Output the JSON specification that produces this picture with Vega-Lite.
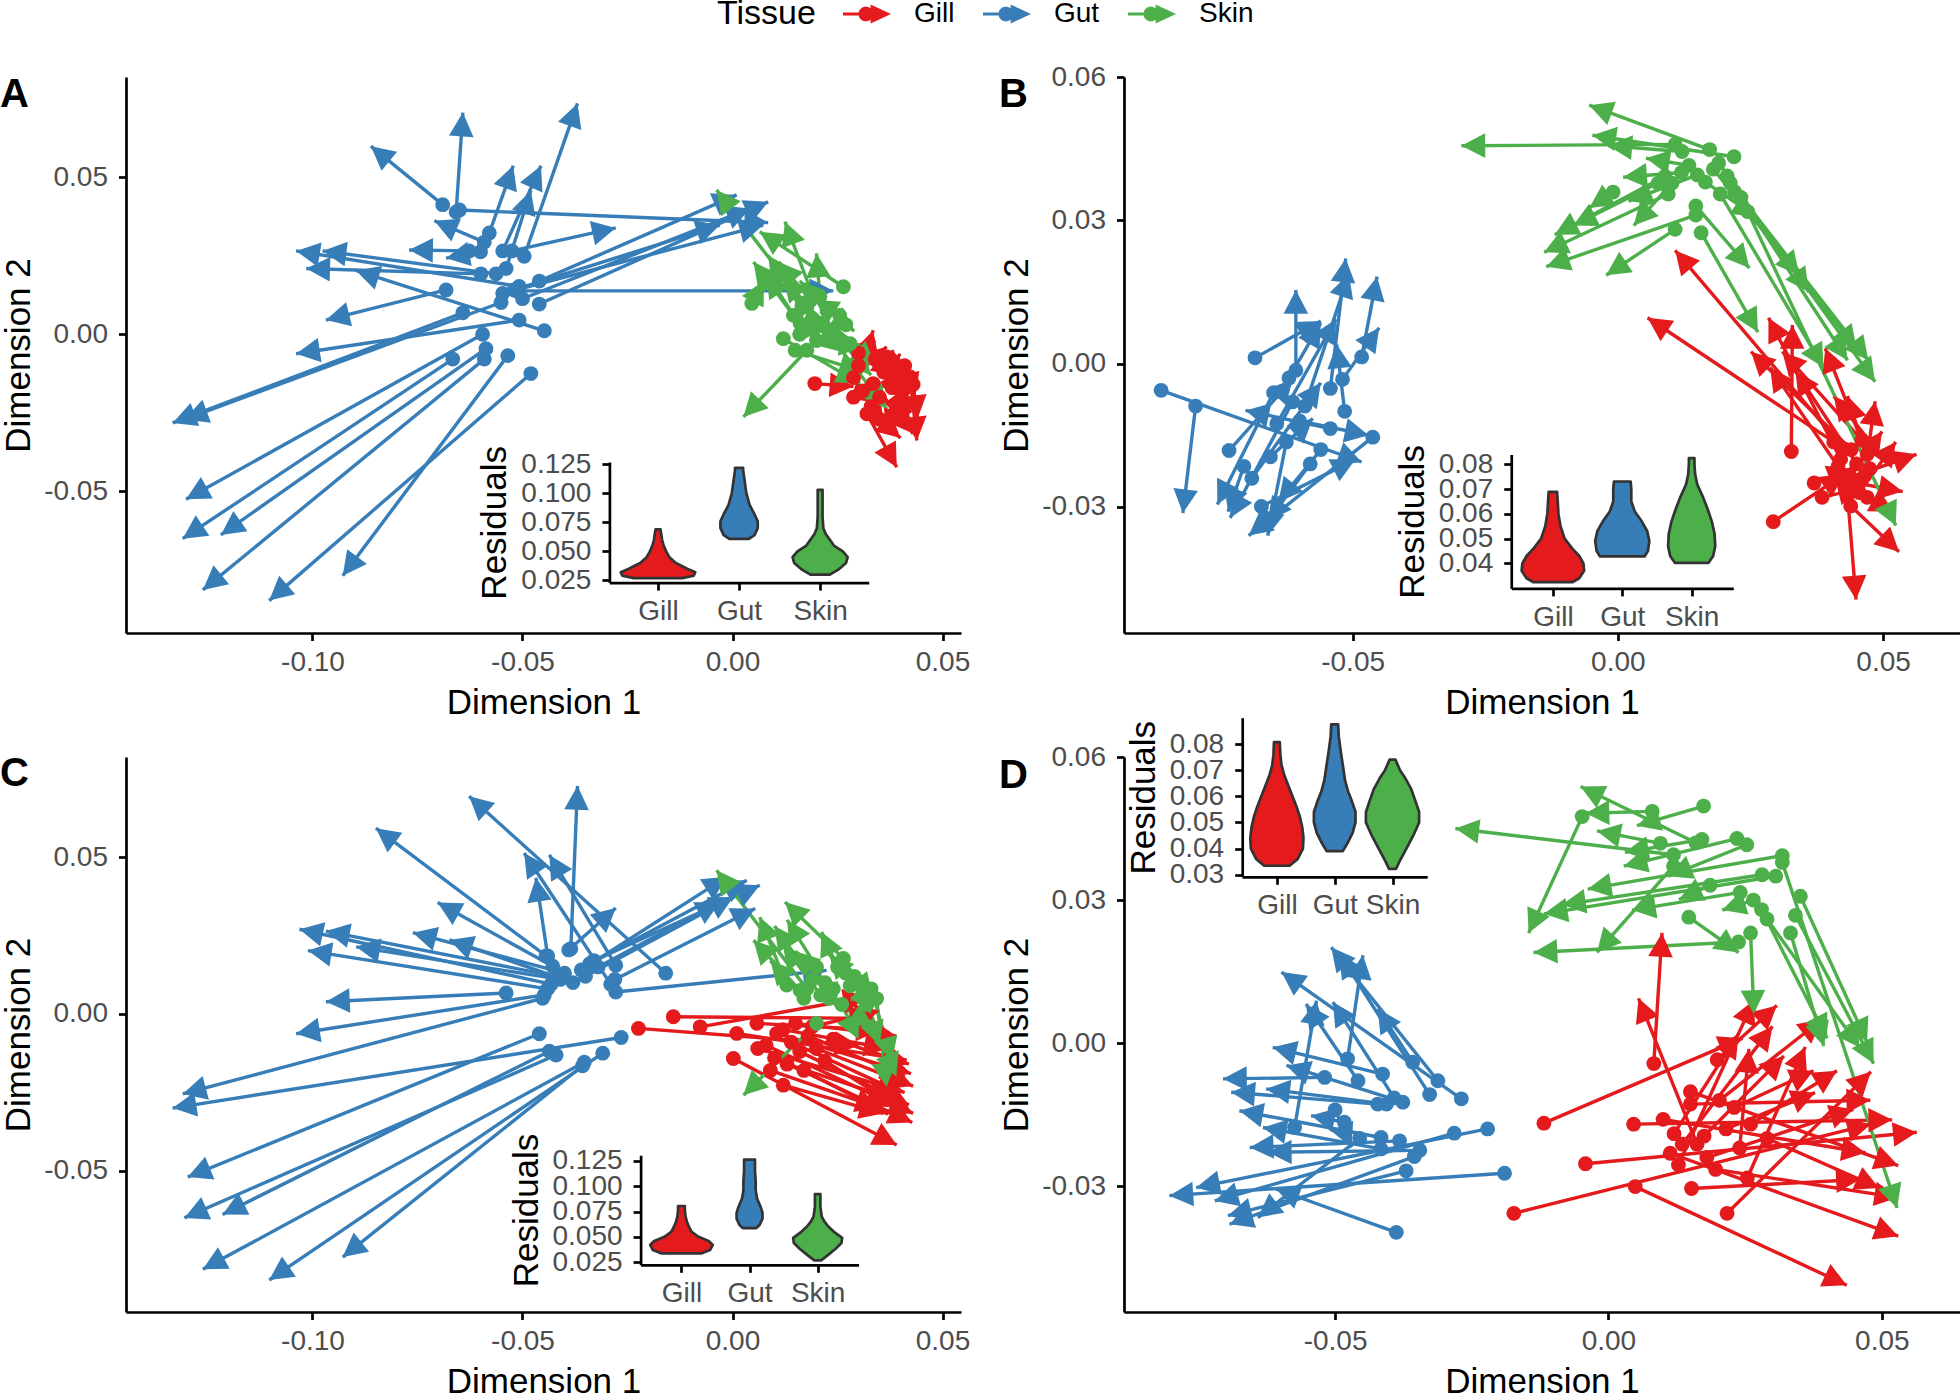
{
"$schema": "https://vega.github.io/schema/vega-lite/v6.json",
"padding": 0,
"usermeta": {"embedOptions": {"actions": false}},
"datasets": {
"A": [
{"t":"Gut","x0":-0.0658,"y0":0.0389,"x1":-0.0642,"y1":0.0705},
{"t":"Gut","x0":-0.0690,"y0":0.0412,"x1":-0.0861,"y1":0.0598},
{"t":"Gut","x0":-0.0496,"y0":0.0248,"x1":-0.0369,"y1":0.0734},
{"t":"Gut","x0":-0.0579,"y0":0.0322,"x1":-0.0522,"y1":0.0536},
{"t":"Gut","x0":-0.0547,"y0":0.0265,"x1":-0.0456,"y1":0.0536},
{"t":"Gut","x0":-0.0539,"y0":0.0209,"x1":-0.0480,"y1":0.0457},
{"t":"Gut","x0":-0.0591,"y0":0.0293,"x1":-0.0710,"y1":0.0361},
{"t":"Gut","x0":-0.0627,"y0":0.0265,"x1":-0.0770,"y1":0.0268},
{"t":"Gut","x0":-0.0600,"y0":0.0262,"x1":-0.0682,"y1":0.0242},
{"t":"Gut","x0":-0.0508,"y0":0.0152,"x1":-0.1039,"y1":0.0265},
{"t":"Gut","x0":-0.0563,"y0":0.0192,"x1":-0.0976,"y1":0.0265},
{"t":"Gut","x0":-0.0599,"y0":0.0192,"x1":-0.1015,"y1":0.0209},
{"t":"Gut","x0":-0.0448,"y0":0.0011,"x1":-0.0897,"y1":0.0203},
{"t":"Gut","x0":-0.0682,"y0":0.0141,"x1":-0.0968,"y1":0.0045},
{"t":"Gut","x0":-0.0508,"y0":0.0045,"x1":-0.1039,"y1":-0.0062},
{"t":"Gut","x0":-0.0642,"y0":0.0068,"x1":-0.1333,"y1":-0.0282},
{"t":"Gut","x0":-0.0551,"y0":0.0101,"x1":-0.1305,"y1":-0.0271},
{"t":"Gut","x0":-0.0595,"y0":0.0000,"x1":-0.1301,"y1":-0.0525},
{"t":"Gut","x0":-0.0666,"y0":-0.0079,"x1":-0.1309,"y1":-0.0650},
{"t":"Gut","x0":-0.0587,"y0":-0.0046,"x1":-0.1218,"y1":-0.0638},
{"t":"Gut","x0":-0.0591,"y0":-0.0079,"x1":-0.1261,"y1":-0.0813},
{"t":"Gut","x0":-0.0480,"y0":-0.0125,"x1":-0.1103,"y1":-0.0847},
{"t":"Gut","x0":-0.0535,"y0":-0.0068,"x1":-0.0928,"y1":-0.0768},
{"t":"Gut","x0":-0.0650,"y0":0.0395,"x1":0.0085,"y1":0.0355},
{"t":"Gut","x0":-0.0525,"y0":0.0265,"x1":-0.0278,"y1":0.0338},
{"t":"Gut","x0":-0.0460,"y0":0.0169,"x1":0.0010,"y1":0.0443},
{"t":"Gut","x0":-0.0460,"y0":0.0096,"x1":0.0085,"y1":0.0421},
{"t":"Gut","x0":-0.0500,"y0":0.0113,"x1":0.0042,"y1":0.0400},
{"t":"Gut","x0":-0.0520,"y0":0.0141,"x1":-0.0030,"y1":0.0347},
{"t":"Gut","x0":-0.0547,"y0":0.0130,"x1":0.0073,"y1":0.0347},
{"t":"Gut","x0":-0.0515,"y0":0.0138,"x1":0.0240,"y1":0.0138},
{"t":"Gill","x0":0.0196,"y0":-0.0157,"x1":0.0288,"y1":-0.0166},
{"t":"Gill","x0":0.0288,"y0":-0.0200,"x1":0.0335,"y1":0.0013},
{"t":"Gill","x0":0.0320,"y0":-0.0253,"x1":0.0391,"y1":-0.0423},
{"t":"Gill","x0":0.0288,"y0":-0.0138,"x1":0.0367,"y1":-0.0040},
{"t":"Gill","x0":0.0335,"y0":-0.0157,"x1":0.0430,"y1":-0.0316},
{"t":"Gill","x0":0.0423,"y0":-0.0136,"x1":0.0439,"y1":-0.0338},
{"t":"Gill","x0":0.0407,"y0":-0.0178,"x1":0.0367,"y1":-0.0316},
{"t":"Gill","x0":0.0376,"y0":-0.0114,"x1":0.0399,"y1":-0.0062},
{"t":"Gill","x0":0.0367,"y0":-0.0072,"x1":0.0430,"y1":-0.0157},
{"t":"Gill","x0":0.0300,"y0":-0.0100,"x1":0.0320,"y1":-0.0040},
{"t":"Gill","x0":0.0350,"y0":-0.0200,"x1":0.0420,"y1":-0.0280},
{"t":"Gill","x0":0.0390,"y0":-0.0230,"x1":0.0410,"y1":-0.0300},
{"t":"Gill","x0":0.0330,"y0":-0.0230,"x1":0.0360,"y1":-0.0290},
{"t":"Gill","x0":0.0360,"y0":-0.0120,"x1":0.0400,"y1":-0.0200},
{"t":"Gill","x0":0.0410,"y0":-0.0100,"x1":0.0435,"y1":-0.0200},
{"t":"Gill","x0":0.0340,"y0":-0.0080,"x1":0.0390,"y1":-0.0130},
{"t":"Gill","x0":0.0380,"y0":-0.0170,"x1":0.0425,"y1":-0.0250},
{"t":"Gill","x0":0.0310,"y0":-0.0180,"x1":0.0350,"y1":-0.0220},
{"t":"Gill","x0":0.0400,"y0":-0.0150,"x1":0.0380,"y1":-0.0050},
{"t":"Gill","x0":0.0300,"y0":-0.0060,"x1":0.0340,"y1":-0.0020},
{"t":"Gill","x0":0.0430,"y0":-0.0160,"x1":0.0440,"y1":-0.0270},
{"t":"Gill","x0":0.0350,"y0":-0.0270,"x1":0.0400,"y1":-0.0330},
{"t":"Skin","x0":0.0177,"y0":0.0087,"x1":-0.0038,"y1":0.0459},
{"t":"Skin","x0":0.0264,"y0":0.0151,"x1":0.0065,"y1":0.0326},
{"t":"Skin","x0":0.0189,"y0":0.0130,"x1":0.0125,"y1":0.0358},
{"t":"Skin","x0":0.0208,"y0":0.0119,"x1":0.0200,"y1":0.0257},
{"t":"Skin","x0":0.0161,"y0":0.0034,"x1":0.0050,"y1":0.0230},
{"t":"Skin","x0":0.0190,"y0":0.0050,"x1":0.0097,"y1":0.0236},
{"t":"Skin","x0":0.0170,"y0":0.0010,"x1":0.0081,"y1":0.0193},
{"t":"Skin","x0":0.0046,"y0":0.0098,"x1":0.0075,"y1":0.0170},
{"t":"Skin","x0":0.0177,"y0":-0.0051,"x1":0.0026,"y1":-0.0263},
{"t":"Skin","x0":0.0121,"y0":-0.0014,"x1":0.0304,"y1":-0.0157},
{"t":"Skin","x0":0.0149,"y0":-0.0051,"x1":0.0311,"y1":-0.0120},
{"t":"Skin","x0":0.0200,"y0":-0.0020,"x1":0.0311,"y1":-0.0040},
{"t":"Skin","x0":0.0230,"y0":0.0000,"x1":0.0367,"y1":-0.0237},
{"t":"Skin","x0":0.0145,"y0":0.0060,"x1":0.0060,"y1":0.0215},
{"t":"Skin","x0":0.0215,"y0":0.0035,"x1":0.0120,"y1":0.0180},
{"t":"Skin","x0":0.0240,"y0":0.0015,"x1":0.0140,"y1":0.0130},
{"t":"Skin","x0":0.0250,"y0":-0.0010,"x1":0.0330,"y1":-0.0130},
{"t":"Skin","x0":0.0165,"y0":0.0090,"x1":0.0085,"y1":0.0250},
{"t":"Skin","x0":0.0225,"y0":0.0075,"x1":0.0160,"y1":0.0170},
{"t":"Skin","x0":0.0270,"y0":0.0030,"x1":0.0290,"y1":0.0010},
{"t":"Skin","x0":0.0280,"y0":-0.0030,"x1":0.0340,"y1":-0.0100},
{"t":"Skin","x0":0.0200,"y0":0.0025,"x1":0.0270,"y1":-0.0060},
{"t":"Skin","x0":0.0160,"y0":0.0000,"x1":0.0230,"y1":0.0040},
{"t":"Skin","x0":0.0255,"y0":0.0060,"x1":0.0195,"y1":0.0110},
{"t":"Skin","x0":0.0186,"y0":0.0108,"x1":0.0110,"y1":0.0230}
],
"B": [
{"t":"Gut","x0":-0.0861,"y0":-0.0056,"x1":-0.0483,"y1":-0.0206},
{"t":"Gut","x0":-0.0796,"y0":-0.0089,"x1":-0.0820,"y1":-0.0313},
{"t":"Gut","x0":-0.0684,"y0":0.0012,"x1":-0.0560,"y1":0.0089},
{"t":"Gut","x0":-0.0607,"y0":-0.0014,"x1":-0.0607,"y1":0.0154},
{"t":"Gut","x0":-0.0542,"y0":-0.0052,"x1":-0.0513,"y1":0.0220},
{"t":"Gut","x0":-0.0590,"y0":-0.0089,"x1":-0.0507,"y1":0.0188},
{"t":"Gut","x0":-0.0483,"y0":0.0014,"x1":-0.0454,"y1":0.0182},
{"t":"Gut","x0":-0.0519,"y0":-0.0033,"x1":-0.0450,"y1":0.0075},
{"t":"Gut","x0":-0.0643,"y0":-0.0126,"x1":-0.0531,"y1":0.0093},
{"t":"Gut","x0":-0.0462,"y0":-0.0154,"x1":-0.0696,"y1":-0.0360},
{"t":"Gut","x0":-0.0649,"y0":-0.0061,"x1":-0.0755,"y1":-0.0295},
{"t":"Gut","x0":-0.0613,"y0":-0.0080,"x1":-0.0731,"y1":-0.0323},
{"t":"Gut","x0":-0.0625,"y0":-0.0164,"x1":-0.0660,"y1":-0.0360},
{"t":"Gut","x0":-0.0542,"y0":-0.0136,"x1":-0.0702,"y1":-0.0098},
{"t":"Gut","x0":-0.0733,"y0":-0.0182,"x1":-0.0613,"y1":-0.0033},
{"t":"Gut","x0":-0.0672,"y0":-0.0299,"x1":-0.0495,"y1":-0.0201},
{"t":"Gut","x0":-0.0655,"y0":-0.0195,"x1":-0.0575,"y1":-0.0115},
{"t":"Gut","x0":-0.0580,"y0":-0.0210,"x1":-0.0660,"y1":-0.0330},
{"t":"Gut","x0":-0.0690,"y0":-0.0240,"x1":-0.0560,"y1":-0.0040},
{"t":"Gut","x0":-0.0600,"y0":-0.0120,"x1":-0.0470,"y1":-0.0150},
{"t":"Gut","x0":-0.0620,"y0":-0.0030,"x1":-0.0560,"y1":0.0085},
{"t":"Gut","x0":-0.0705,"y0":-0.0215,"x1":-0.0735,"y1":-0.0310},
{"t":"Gut","x0":-0.0560,"y0":-0.0180,"x1":-0.0640,"y1":-0.0290},
{"t":"Gut","x0":-0.0515,"y0":-0.0100,"x1":-0.0530,"y1":0.0040},
{"t":"Gill","x0":0.0427,"y0":-0.0179,"x1":0.0108,"y1":0.0237},
{"t":"Gill","x0":0.0407,"y0":-0.0164,"x1":0.0056,"y1":0.0096},
{"t":"Gill","x0":0.0293,"y0":-0.0331,"x1":0.0427,"y1":-0.0231},
{"t":"Gill","x0":0.0433,"y0":-0.0276,"x1":0.0449,"y1":-0.0494},
{"t":"Gill","x0":0.0439,"y0":-0.0298,"x1":0.0530,"y1":-0.0394},
{"t":"Gill","x0":0.0439,"y0":-0.0238,"x1":0.0563,"y1":-0.0190},
{"t":"Gill","x0":0.0450,"y0":-0.0250,"x1":0.0537,"y1":-0.0268},
{"t":"Gill","x0":0.0327,"y0":-0.0184,"x1":0.0329,"y1":0.0081},
{"t":"Gill","x0":0.0420,"y0":-0.0200,"x1":0.0284,"y1":0.0096},
{"t":"Gill","x0":0.0440,"y0":-0.0180,"x1":0.0251,"y1":0.0025},
{"t":"Gill","x0":0.0460,"y0":-0.0160,"x1":0.0310,"y1":0.0025},
{"t":"Gill","x0":0.0470,"y0":-0.0190,"x1":0.0391,"y1":0.0032},
{"t":"Gill","x0":0.0415,"y0":-0.0215,"x1":0.0287,"y1":-0.0008},
{"t":"Gill","x0":0.0450,"y0":-0.0210,"x1":0.0335,"y1":-0.0016},
{"t":"Gill","x0":0.0480,"y0":-0.0170,"x1":0.0407,"y1":-0.0068},
{"t":"Gill","x0":0.0475,"y0":-0.0220,"x1":0.0433,"y1":-0.0068},
{"t":"Gill","x0":0.0465,"y0":-0.0235,"x1":0.0485,"y1":-0.0079},
{"t":"Gill","x0":0.0430,"y0":-0.0250,"x1":0.0498,"y1":-0.0142},
{"t":"Gill","x0":0.0455,"y0":-0.0270,"x1":0.0524,"y1":-0.0164},
{"t":"Gill","x0":0.0370,"y0":-0.0250,"x1":0.0440,"y1":-0.0220},
{"t":"Gill","x0":0.0385,"y0":-0.0280,"x1":0.0460,"y1":-0.0260},
{"t":"Gill","x0":0.0470,"y0":-0.0280,"x1":0.0520,"y1":-0.0310},
{"t":"Skin","x0":0.0173,"y0":0.0448,"x1":-0.0054,"y1":0.0541},
{"t":"Skin","x0":0.0108,"y0":0.0459,"x1":-0.0295,"y1":0.0456},
{"t":"Skin","x0":0.0219,"y0":0.0433,"x1":-0.0048,"y1":0.0478},
{"t":"Skin","x0":0.0121,"y0":0.0444,"x1":-0.0018,"y1":0.0456},
{"t":"Skin","x0":0.0134,"y0":0.0415,"x1":0.0053,"y1":0.0430},
{"t":"Skin","x0":-0.0009,"y0":0.0359,"x1":-0.0054,"y1":0.0326},
{"t":"Skin","x0":0.0089,"y0":0.0392,"x1":-0.0119,"y1":0.0270},
{"t":"Skin","x0":0.0076,"y0":0.0378,"x1":-0.0084,"y1":0.0289},
{"t":"Skin","x0":0.0095,"y0":0.0355,"x1":-0.0139,"y1":0.0233},
{"t":"Skin","x0":0.0147,"y0":0.0311,"x1":-0.0135,"y1":0.0203},
{"t":"Skin","x0":0.0102,"y0":0.0378,"x1":0.0030,"y1":0.0289},
{"t":"Skin","x0":0.0108,"y0":0.0281,"x1":-0.0022,"y1":0.0185},
{"t":"Skin","x0":0.0157,"y0":0.0274,"x1":0.0264,"y1":0.0066},
{"t":"Skin","x0":0.0180,"y0":0.0407,"x1":0.0342,"y1":0.0185},
{"t":"Skin","x0":0.0212,"y0":0.0378,"x1":0.0472,"y1":0.0007},
{"t":"Skin","x0":0.0232,"y0":0.0348,"x1":0.0485,"y1":-0.0038},
{"t":"Skin","x0":0.0193,"y0":0.0355,"x1":0.0388,"y1":-0.0008},
{"t":"Skin","x0":0.0245,"y0":0.0318,"x1":0.0524,"y1":-0.0339},
{"t":"Skin","x0":0.0206,"y0":0.0393,"x1":0.0433,"y1":0.0007},
{"t":"Skin","x0":0.0147,"y0":0.0330,"x1":0.0248,"y1":0.0200},
{"t":"Skin","x0":0.0165,"y0":0.0380,"x1":0.0261,"y1":0.0307},
{"t":"Skin","x0":0.0150,"y0":0.0395,"x1":0.0020,"y1":0.0340},
{"t":"Skin","x0":0.0190,"y0":0.0420,"x1":0.0360,"y1":0.0150},
{"t":"Skin","x0":0.0220,"y0":0.0360,"x1":0.0450,"y1":0.0030},
{"t":"Skin","x0":0.0120,"y0":0.0400,"x1":0.0010,"y1":0.0390}
],
"C": [
{"t":"Gut","x0":-0.0385,"y0":0.0208,"x1":-0.0369,"y1":0.0727},
{"t":"Gut","x0":-0.0159,"y0":0.0130,"x1":-0.0627,"y1":0.0694},
{"t":"Gut","x0":-0.0444,"y0":0.0185,"x1":-0.0849,"y1":0.0592},
{"t":"Gut","x0":-0.0290,"y0":0.0095,"x1":-0.0496,"y1":0.0513},
{"t":"Gut","x0":-0.0278,"y0":0.0155,"x1":-0.0436,"y1":0.0507},
{"t":"Gut","x0":-0.0440,"y0":0.0185,"x1":-0.0468,"y1":0.0434},
{"t":"Gut","x0":-0.0428,"y0":0.0152,"x1":-0.0702,"y1":0.0355},
{"t":"Gut","x0":-0.0432,"y0":0.0095,"x1":-0.1031,"y1":0.0270},
{"t":"Gut","x0":-0.0420,"y0":0.0120,"x1":-0.0968,"y1":0.0264},
{"t":"Gut","x0":-0.0440,"y0":0.0080,"x1":-0.1011,"y1":0.0202},
{"t":"Gut","x0":-0.0410,"y0":0.0110,"x1":-0.0896,"y1":0.0214},
{"t":"Gut","x0":-0.0400,"y0":0.0130,"x1":-0.0761,"y1":0.0259},
{"t":"Gut","x0":-0.0380,"y0":0.0100,"x1":-0.0674,"y1":0.0236},
{"t":"Gut","x0":-0.0539,"y0":0.0067,"x1":-0.0968,"y1":0.0039},
{"t":"Gut","x0":-0.0448,"y0":0.0061,"x1":-0.1039,"y1":-0.0063},
{"t":"Gut","x0":-0.0265,"y0":-0.0075,"x1":-0.1333,"y1":-0.0300},
{"t":"Gut","x0":-0.0452,"y0":0.0050,"x1":-0.1309,"y1":-0.0255},
{"t":"Gut","x0":-0.0460,"y0":-0.0063,"x1":-0.1297,"y1":-0.0520},
{"t":"Gut","x0":-0.0420,"y0":-0.0131,"x1":-0.1305,"y1":-0.0650},
{"t":"Gut","x0":-0.0436,"y0":-0.0119,"x1":-0.1214,"y1":-0.0639},
{"t":"Gut","x0":-0.0353,"y0":-0.0154,"x1":-0.1261,"y1":-0.0814},
{"t":"Gut","x0":-0.0309,"y0":-0.0125,"x1":-0.1103,"y1":-0.0848},
{"t":"Gut","x0":-0.0357,"y0":-0.0165,"x1":-0.0928,"y1":-0.0775},
{"t":"Gut","x0":-0.0278,"y0":0.0070,"x1":0.0224,"y1":0.0139},
{"t":"Gut","x0":-0.0390,"y0":0.0204,"x1":-0.0278,"y1":0.0338},
{"t":"Gut","x0":-0.0360,"y0":0.0140,"x1":-0.0014,"y1":0.0437},
{"t":"Gut","x0":-0.0340,"y0":0.0160,"x1":0.0034,"y1":0.0426},
{"t":"Gut","x0":-0.0330,"y0":0.0170,"x1":0.0065,"y1":0.0410},
{"t":"Gut","x0":-0.0350,"y0":0.0120,"x1":0.0002,"y1":0.0373},
{"t":"Gut","x0":-0.0320,"y0":0.0150,"x1":-0.0030,"y1":0.0357},
{"t":"Gut","x0":-0.0280,"y0":0.0110,"x1":0.0054,"y1":0.0336},
{"t":"Gill","x0":-0.0224,"y0":-0.0046,"x1":0.0300,"y1":-0.0100},
{"t":"Gill","x0":-0.0141,"y0":-0.0009,"x1":0.0335,"y1":-0.0014},
{"t":"Gill","x0":-0.0077,"y0":-0.0041,"x1":0.0320,"y1":0.0054},
{"t":"Gill","x0":0.0010,"y0":-0.0062,"x1":0.0415,"y1":-0.0147},
{"t":"Gill","x0":0.0002,"y0":-0.0142,"x1":0.0391,"y1":-0.0418},
{"t":"Gill","x0":0.0058,"y0":-0.0030,"x1":0.0351,"y1":-0.0052},
{"t":"Gill","x0":0.0105,"y0":-0.0062,"x1":0.0425,"y1":-0.0190},
{"t":"Gill","x0":0.0121,"y0":-0.0227,"x1":0.0359,"y1":-0.0317},
{"t":"Gill","x0":0.0080,"y0":-0.0100,"x1":0.0430,"y1":-0.0317},
{"t":"Gill","x0":0.0100,"y0":-0.0140,"x1":0.0428,"y1":-0.0346},
{"t":"Gill","x0":0.0140,"y0":-0.0090,"x1":0.0400,"y1":-0.0250},
{"t":"Gill","x0":0.0160,"y0":-0.0120,"x1":0.0420,"y1":-0.0290},
{"t":"Gill","x0":0.0130,"y0":-0.0160,"x1":0.0380,"y1":-0.0270},
{"t":"Gill","x0":0.0180,"y0":-0.0070,"x1":0.0410,"y1":-0.0200},
{"t":"Gill","x0":0.0200,"y0":-0.0110,"x1":0.0430,"y1":-0.0230},
{"t":"Gill","x0":0.0120,"y0":-0.0050,"x1":0.0370,"y1":-0.0110},
{"t":"Gill","x0":0.0150,"y0":-0.0030,"x1":0.0390,"y1":-0.0070},
{"t":"Gill","x0":0.0220,"y0":-0.0150,"x1":0.0400,"y1":-0.0300},
{"t":"Gill","x0":0.0170,"y0":-0.0180,"x1":0.0370,"y1":-0.0320},
{"t":"Gill","x0":0.0090,"y0":-0.0180,"x1":0.0350,"y1":-0.0300},
{"t":"Gill","x0":0.0240,"y0":-0.0080,"x1":0.0420,"y1":-0.0160},
{"t":"Gill","x0":0.0060,"y0":-0.0110,"x1":0.0410,"y1":-0.0250},
{"t":"Gill","x0":0.0190,"y0":-0.0040,"x1":0.0350,"y1":0.0010},
{"t":"Skin","x0":0.0177,"y0":0.0080,"x1":-0.0038,"y1":0.0458},
{"t":"Skin","x0":0.0264,"y0":0.0177,"x1":0.0125,"y1":0.0357},
{"t":"Skin","x0":0.0250,"y0":0.0150,"x1":0.0212,"y1":0.0261},
{"t":"Skin","x0":0.0129,"y0":0.0092,"x1":0.0065,"y1":0.0309},
{"t":"Skin","x0":0.0161,"y0":0.0075,"x1":0.0050,"y1":0.0235},
{"t":"Skin","x0":0.0304,"y0":0.0102,"x1":0.0335,"y1":0.0054},
{"t":"Skin","x0":0.0200,"y0":-0.0030,"x1":0.0026,"y1":-0.0259},
{"t":"Skin","x0":0.0343,"y0":0.0049,"x1":0.0367,"y1":-0.0232},
{"t":"Skin","x0":0.0230,"y0":0.0050,"x1":0.0335,"y1":-0.0041},
{"t":"Skin","x0":0.0280,"y0":0.0090,"x1":0.0343,"y1":0.0033},
{"t":"Skin","x0":0.0190,"y0":0.0110,"x1":0.0100,"y1":0.0280},
{"t":"Skin","x0":0.0210,"y0":0.0060,"x1":0.0120,"y1":0.0220},
{"t":"Skin","x0":0.0240,"y0":0.0080,"x1":0.0150,"y1":0.0200},
{"t":"Skin","x0":0.0290,"y0":0.0120,"x1":0.0330,"y1":0.0000},
{"t":"Skin","x0":0.0310,"y0":0.0060,"x1":0.0350,"y1":-0.0100},
{"t":"Skin","x0":0.0260,"y0":0.0030,"x1":0.0300,"y1":-0.0080},
{"t":"Skin","x0":0.0220,"y0":0.0100,"x1":0.0250,"y1":0.0020},
{"t":"Skin","x0":0.0330,"y0":0.0080,"x1":0.0380,"y1":-0.0150},
{"t":"Skin","x0":0.0170,"y0":0.0050,"x1":0.0090,"y1":0.0170},
{"t":"Skin","x0":0.0270,"y0":0.0130,"x1":0.0230,"y1":0.0190},
{"t":"Skin","x0":0.0320,"y0":0.0030,"x1":0.0390,"y1":-0.0200},
{"t":"Skin","x0":0.0200,"y0":0.0150,"x1":0.0130,"y1":0.0300}
],
"D": [
{"t":"Gut","x0":-0.0388,"y0":-0.0397,"x1":-0.0608,"y1":-0.0306},
{"t":"Gut","x0":-0.0190,"y0":-0.0273,"x1":-0.0803,"y1":-0.0320},
{"t":"Gut","x0":-0.0221,"y0":-0.0180,"x1":-0.0754,"y1":-0.0303},
{"t":"Gut","x0":-0.0282,"y0":-0.0189,"x1":-0.0720,"y1":-0.0331},
{"t":"Gut","x0":-0.0370,"y0":-0.0268,"x1":-0.0696,"y1":-0.0362},
{"t":"Gut","x0":-0.0355,"y0":-0.0238,"x1":-0.0693,"y1":-0.0380},
{"t":"Gut","x0":-0.0455,"y0":-0.0200,"x1":-0.0641,"y1":-0.0366},
{"t":"Gut","x0":-0.0269,"y0":-0.0117,"x1":-0.0598,"y1":0.0149},
{"t":"Gut","x0":-0.0312,"y0":-0.0079,"x1":-0.0507,"y1":0.0201},
{"t":"Gut","x0":-0.0327,"y0":-0.0108,"x1":-0.0492,"y1":0.0187},
{"t":"Gut","x0":-0.0358,"y0":-0.0040,"x1":-0.0422,"y1":0.0072},
{"t":"Gut","x0":-0.0413,"y0":-0.0065,"x1":-0.0614,"y1":-0.0009},
{"t":"Gut","x0":-0.0458,"y0":-0.0079,"x1":-0.0553,"y1":0.0082},
{"t":"Gut","x0":-0.0477,"y0":-0.0033,"x1":-0.0449,"y1":0.0184},
{"t":"Gut","x0":-0.0519,"y0":-0.0072,"x1":-0.0705,"y1":-0.0075},
{"t":"Gut","x0":-0.0422,"y0":-0.0128,"x1":-0.0690,"y1":-0.0103},
{"t":"Gut","x0":-0.0406,"y0":-0.0128,"x1":-0.0626,"y1":-0.0096},
{"t":"Gut","x0":-0.0376,"y0":-0.0124,"x1":-0.0589,"y1":-0.0047},
{"t":"Gut","x0":-0.0574,"y0":-0.0177,"x1":-0.0534,"y1":0.0089},
{"t":"Gut","x0":-0.0416,"y0":-0.0198,"x1":-0.0675,"y1":-0.0142},
{"t":"Gut","x0":-0.0416,"y0":-0.0222,"x1":-0.0632,"y1":-0.0177},
{"t":"Gut","x0":-0.0382,"y0":-0.0205,"x1":-0.0656,"y1":-0.0219},
{"t":"Gut","x0":-0.0345,"y0":-0.0225,"x1":-0.0623,"y1":-0.0229},
{"t":"Gut","x0":-0.0483,"y0":-0.0166,"x1":-0.0544,"y1":-0.0152},
{"t":"Gut","x0":-0.0392,"y0":-0.0115,"x1":-0.0504,"y1":0.0086},
{"t":"Gut","x0":-0.0500,"y0":-0.0140,"x1":-0.0470,"y1":-0.0219},
{"t":"Gill","x0":0.0083,"y0":-0.0043,"x1":0.0098,"y1":0.0231},
{"t":"Gill","x0":0.0162,"y0":-0.0212,"x1":0.0055,"y1":0.0094},
{"t":"Gill","x0":-0.0118,"y0":-0.0168,"x1":0.0245,"y1":0.0010},
{"t":"Gill","x0":0.0046,"y0":-0.0170,"x1":0.0519,"y1":-0.0161},
{"t":"Gill","x0":-0.0042,"y0":-0.0253,"x1":0.0564,"y1":-0.0187},
{"t":"Gill","x0":-0.0173,"y0":-0.0357,"x1":0.0480,"y1":-0.0170},
{"t":"Gill","x0":0.0049,"y0":-0.0301,"x1":0.0436,"y1":-0.0508},
{"t":"Gill","x0":0.0199,"y0":-0.0035,"x1":0.0308,"y1":0.0079},
{"t":"Gill","x0":0.0150,"y0":-0.0102,"x1":0.0530,"y1":-0.0257},
{"t":"Gill","x0":0.0152,"y0":-0.0305,"x1":0.0460,"y1":-0.0286},
{"t":"Gill","x0":0.0217,"y0":-0.0357,"x1":0.0480,"y1":-0.0060},
{"t":"Gill","x0":0.0254,"y0":-0.0283,"x1":0.0360,"y1":-0.0008},
{"t":"Gill","x0":0.0113,"y0":-0.0231,"x1":0.0530,"y1":-0.0405},
{"t":"Gill","x0":0.0196,"y0":-0.0265,"x1":0.0530,"y1":-0.0324},
{"t":"Gill","x0":0.0128,"y0":-0.0255,"x1":0.0266,"y1":0.0090},
{"t":"Gill","x0":0.0135,"y0":-0.0212,"x1":0.0300,"y1":0.0035},
{"t":"Gill","x0":0.0203,"y0":-0.0120,"x1":0.0391,"y1":0.0050},
{"t":"Gill","x0":0.0230,"y0":-0.0135,"x1":0.0375,"y1":-0.0058},
{"t":"Gill","x0":0.0150,"y0":-0.0128,"x1":0.0479,"y1":-0.0120},
{"t":"Gill","x0":0.0175,"y0":-0.0195,"x1":0.0321,"y1":-0.0027},
{"t":"Gill","x0":0.0215,"y0":-0.0180,"x1":0.0378,"y1":-0.0104},
{"t":"Gill","x0":0.0260,"y0":-0.0170,"x1":0.0418,"y1":-0.0058},
{"t":"Gill","x0":0.0290,"y0":-0.0200,"x1":0.0495,"y1":-0.0304},
{"t":"Gill","x0":0.0180,"y0":-0.0240,"x1":0.0448,"y1":-0.0139},
{"t":"Gill","x0":0.0240,"y0":-0.0220,"x1":0.0257,"y1":-0.0012},
{"t":"Gill","x0":0.0120,"y0":-0.0190,"x1":0.0238,"y1":0.0019},
{"t":"Gill","x0":0.0100,"y0":-0.0160,"x1":0.0470,"y1":-0.0230},
{"t":"Skin","x0":0.0160,"y0":0.0420,"x1":-0.0051,"y1":0.0538},
{"t":"Skin","x0":0.0080,"y0":0.0486,"x1":-0.0042,"y1":0.0482},
{"t":"Skin","x0":0.0174,"y0":0.0497,"x1":0.0052,"y1":0.0456},
{"t":"Skin","x0":0.0095,"y0":0.0419,"x1":-0.0021,"y1":0.0445},
{"t":"Skin","x0":0.0119,"y0":0.0395,"x1":-0.0280,"y1":0.0450},
{"t":"Skin","x0":0.0235,"y0":0.0429,"x1":0.0028,"y1":0.0371},
{"t":"Skin","x0":0.0318,"y0":0.0393,"x1":-0.0038,"y1":0.0323},
{"t":"Skin","x0":0.0306,"y0":0.0350,"x1":-0.0118,"y1":0.0271},
{"t":"Skin","x0":0.0281,"y0":0.0353,"x1":-0.0085,"y1":0.0290},
{"t":"Skin","x0":-0.0048,"y0":0.0475,"x1":-0.0146,"y1":0.0231},
{"t":"Skin","x0":0.0241,"y0":0.0316,"x1":0.0043,"y1":0.0279},
{"t":"Skin","x0":0.0186,"y0":0.0331,"x1":0.0129,"y1":0.0301},
{"t":"Skin","x0":0.0238,"y0":0.0212,"x1":-0.0137,"y1":0.0190},
{"t":"Skin","x0":0.0119,"y0":0.0371,"x1":-0.0021,"y1":0.0190},
{"t":"Skin","x0":0.0147,"y0":0.0264,"x1":0.0238,"y1":0.0190},
{"t":"Skin","x0":0.0260,"y0":0.0231,"x1":0.0266,"y1":0.0061},
{"t":"Skin","x0":0.0351,"y0":0.0308,"x1":0.0473,"y1":0.0002},
{"t":"Skin","x0":0.0342,"y0":0.0268,"x1":0.0485,"y1":-0.0043},
{"t":"Skin","x0":0.0333,"y0":0.0231,"x1":0.0394,"y1":-0.0006},
{"t":"Skin","x0":0.0318,"y0":0.0379,"x1":0.0528,"y1":-0.0346},
{"t":"Skin","x0":0.0265,"y0":0.0300,"x1":0.0208,"y1":0.0279},
{"t":"Skin","x0":0.0290,"y0":0.0260,"x1":0.0460,"y1":-0.0010},
{"t":"Skin","x0":0.0280,"y0":0.0280,"x1":0.0400,"y1":0.0010},
{"t":"Skin","x0":0.0253,"y0":0.0416,"x1":0.0110,"y1":0.0350},
{"t":"Skin","x0":0.0171,"y0":0.0427,"x1":0.0030,"y1":0.0400}
],
"vA": [
{"t":"Gill","r":0.027,"lo":0.70,"hi":1.30},{"t":"Gill","r":0.029,"lo":0.56,"hi":1.44},{"t":"Gill","r":0.032,"lo":0.54,"hi":1.46},{"t":"Gill","r":0.035,"lo":0.64,"hi":1.36},{"t":"Gill","r":0.040,"lo":0.78,"hi":1.22},{"t":"Gill","r":0.045,"lo":0.86,"hi":1.14},{"t":"Gill","r":0.050,"lo":0.90,"hi":1.10},{"t":"Gill","r":0.055,"lo":0.93,"hi":1.07},{"t":"Gill","r":0.060,"lo":0.95,"hi":1.05},{"t":"Gill","r":0.065,"lo":0.96,"hi":1.04},{"t":"Gill","r":0.069,"lo":0.97,"hi":1.03},
{"t":"Gut","r":0.0608,"lo":1.88,"hi":2.12},{"t":"Gut","r":0.064,"lo":1.81,"hi":2.19},{"t":"Gut","r":0.070,"lo":1.77,"hi":2.23},{"t":"Gut","r":0.076,"lo":1.77,"hi":2.23},{"t":"Gut","r":0.082,"lo":1.81,"hi":2.19},{"t":"Gut","r":0.090,"lo":1.87,"hi":2.13},{"t":"Gut","r":0.100,"lo":1.91,"hi":2.09},{"t":"Gut","r":0.110,"lo":1.93,"hi":2.07},{"t":"Gut","r":0.120,"lo":1.95,"hi":2.05},{"t":"Gut","r":0.122,"lo":1.95,"hi":2.05},
{"t":"Skin","r":0.030,"lo":2.88,"hi":3.12},{"t":"Skin","r":0.034,"lo":2.78,"hi":3.22},{"t":"Skin","r":0.040,"lo":2.68,"hi":3.32},{"t":"Skin","r":0.045,"lo":2.66,"hi":3.34},{"t":"Skin","r":0.050,"lo":2.72,"hi":3.28},{"t":"Skin","r":0.055,"lo":2.83,"hi":3.17},{"t":"Skin","r":0.060,"lo":2.88,"hi":3.12},{"t":"Skin","r":0.065,"lo":2.93,"hi":3.07},{"t":"Skin","r":0.070,"lo":2.96,"hi":3.04},{"t":"Skin","r":0.080,"lo":2.97,"hi":3.03},{"t":"Skin","r":0.090,"lo":2.97,"hi":3.03},{"t":"Skin","r":0.103,"lo":2.97,"hi":3.03}
],
"vB": [
{"t":"Gill","r":0.0324,"lo":0.72,"hi":1.28},{"t":"Gill","r":0.034,"lo":0.62,"hi":1.38},{"t":"Gill","r":0.037,"lo":0.55,"hi":1.45},{"t":"Gill","r":0.040,"lo":0.56,"hi":1.44},{"t":"Gill","r":0.043,"lo":0.62,"hi":1.38},{"t":"Gill","r":0.046,"lo":0.72,"hi":1.28},{"t":"Gill","r":0.050,"lo":0.83,"hi":1.17},{"t":"Gill","r":0.055,"lo":0.89,"hi":1.11},{"t":"Gill","r":0.060,"lo":0.92,"hi":1.08},{"t":"Gill","r":0.065,"lo":0.93,"hi":1.07},{"t":"Gill","r":0.0689,"lo":0.94,"hi":1.06},
{"t":"Gut","r":0.0428,"lo":1.68,"hi":2.32},{"t":"Gut","r":0.045,"lo":1.63,"hi":2.37},{"t":"Gut","r":0.049,"lo":1.61,"hi":2.39},{"t":"Gut","r":0.053,"lo":1.64,"hi":2.36},{"t":"Gut","r":0.057,"lo":1.72,"hi":2.28},{"t":"Gut","r":0.061,"lo":1.82,"hi":2.18},{"t":"Gut","r":0.065,"lo":1.87,"hi":2.13},{"t":"Gut","r":0.070,"lo":1.87,"hi":2.13},{"t":"Gut","r":0.0731,"lo":1.88,"hi":2.12},
{"t":"Skin","r":0.0402,"lo":2.76,"hi":3.24},{"t":"Skin","r":0.043,"lo":2.69,"hi":3.31},{"t":"Skin","r":0.047,"lo":2.66,"hi":3.34},{"t":"Skin","r":0.052,"lo":2.67,"hi":3.33},{"t":"Skin","r":0.057,"lo":2.71,"hi":3.29},{"t":"Skin","r":0.062,"lo":2.77,"hi":3.23},{"t":"Skin","r":0.067,"lo":2.84,"hi":3.16},{"t":"Skin","r":0.072,"lo":2.92,"hi":3.08},{"t":"Skin","r":0.076,"lo":2.95,"hi":3.05},{"t":"Skin","r":0.080,"lo":2.96,"hi":3.04},{"t":"Skin","r":0.0825,"lo":2.96,"hi":3.04}
],
"vC": [
{"t":"Gill","r":0.0337,"lo":0.70,"hi":1.30},{"t":"Gill","r":0.037,"lo":0.58,"hi":1.42},{"t":"Gill","r":0.042,"lo":0.54,"hi":1.46},{"t":"Gill","r":0.046,"lo":0.60,"hi":1.40},{"t":"Gill","r":0.050,"lo":0.75,"hi":1.25},{"t":"Gill","r":0.055,"lo":0.85,"hi":1.15},{"t":"Gill","r":0.060,"lo":0.89,"hi":1.11},{"t":"Gill","r":0.065,"lo":0.92,"hi":1.08},{"t":"Gill","r":0.070,"lo":0.94,"hi":1.06},{"t":"Gill","r":0.076,"lo":0.95,"hi":1.05},{"t":"Gill","r":0.0805,"lo":0.95,"hi":1.05},
{"t":"Gut","r":0.0586,"lo":1.90,"hi":2.10},{"t":"Gut","r":0.062,"lo":1.85,"hi":2.15},{"t":"Gut","r":0.068,"lo":1.81,"hi":2.19},{"t":"Gut","r":0.074,"lo":1.81,"hi":2.19},{"t":"Gut","r":0.080,"lo":1.84,"hi":2.16},{"t":"Gut","r":0.088,"lo":1.89,"hi":2.11},{"t":"Gut","r":0.096,"lo":1.91,"hi":2.09},{"t":"Gut","r":0.105,"lo":1.91,"hi":2.09},{"t":"Gut","r":0.115,"lo":1.92,"hi":2.08},{"t":"Gut","r":0.1264,"lo":1.92,"hi":2.08},
{"t":"Skin","r":0.0268,"lo":2.95,"hi":3.05},{"t":"Skin","r":0.032,"lo":2.85,"hi":3.15},{"t":"Skin","r":0.038,"lo":2.74,"hi":3.26},{"t":"Skin","r":0.044,"lo":2.65,"hi":3.35},{"t":"Skin","r":0.049,"lo":2.64,"hi":3.36},{"t":"Skin","r":0.055,"lo":2.76,"hi":3.24},{"t":"Skin","r":0.060,"lo":2.84,"hi":3.16},{"t":"Skin","r":0.065,"lo":2.90,"hi":3.10},{"t":"Skin","r":0.070,"lo":2.94,"hi":3.06},{"t":"Skin","r":0.080,"lo":2.96,"hi":3.04},{"t":"Skin","r":0.0923,"lo":2.96,"hi":3.04}
],
"vD": [
{"t":"Gill","r":0.0334,"lo":0.78,"hi":1.22},{"t":"Gill","r":0.036,"lo":0.64,"hi":1.36},{"t":"Gill","r":0.040,"lo":0.55,"hi":1.45},{"t":"Gill","r":0.044,"lo":0.54,"hi":1.46},{"t":"Gill","r":0.048,"lo":0.56,"hi":1.44},{"t":"Gill","r":0.052,"lo":0.60,"hi":1.40},{"t":"Gill","r":0.056,"lo":0.66,"hi":1.34},{"t":"Gill","r":0.060,"lo":0.73,"hi":1.27},{"t":"Gill","r":0.064,"lo":0.80,"hi":1.20},{"t":"Gill","r":0.068,"lo":0.87,"hi":1.13},{"t":"Gill","r":0.072,"lo":0.92,"hi":1.08},{"t":"Gill","r":0.076,"lo":0.94,"hi":1.06},{"t":"Gill","r":0.0808,"lo":0.95,"hi":1.05},
{"t":"Gut","r":0.039,"lo":1.86,"hi":2.14},{"t":"Gut","r":0.042,"lo":1.78,"hi":2.22},{"t":"Gut","r":0.046,"lo":1.69,"hi":2.31},{"t":"Gut","r":0.050,"lo":1.64,"hi":2.36},{"t":"Gut","r":0.054,"lo":1.64,"hi":2.36},{"t":"Gut","r":0.058,"lo":1.70,"hi":2.30},{"t":"Gut","r":0.062,"lo":1.77,"hi":2.23},{"t":"Gut","r":0.066,"lo":1.82,"hi":2.18},{"t":"Gut","r":0.072,"lo":1.86,"hi":2.14},{"t":"Gut","r":0.078,"lo":1.90,"hi":2.10},{"t":"Gut","r":0.083,"lo":1.93,"hi":2.07},{"t":"Gut","r":0.0876,"lo":1.94,"hi":2.06},
{"t":"Skin","r":0.0322,"lo":2.94,"hi":3.06},{"t":"Skin","r":0.035,"lo":2.88,"hi":3.12},{"t":"Skin","r":0.040,"lo":2.76,"hi":3.24},{"t":"Skin","r":0.045,"lo":2.64,"hi":3.36},{"t":"Skin","r":0.050,"lo":2.54,"hi":3.46},{"t":"Skin","r":0.054,"lo":2.54,"hi":3.46},{"t":"Skin","r":0.058,"lo":2.60,"hi":3.40},{"t":"Skin","r":0.063,"lo":2.68,"hi":3.32},{"t":"Skin","r":0.067,"lo":2.78,"hi":3.22},{"t":"Skin","r":0.070,"lo":2.87,"hi":3.13},{"t":"Skin","r":0.0741,"lo":2.95,"hi":3.05}
]
},
"columns": 2,
"spacing": {"row": 124, "column": 163},
"bounds": "flush",
"resolve": {"scale": {"color": "shared"}, "legend": {"color": "shared"}},
"concat": [
{
"width": 835, "height": 556,
"data": {"name": "A"},
"resolve": {"scale": {"x": "independent", "y": "independent"}, "axis": {"x": "independent", "y": "independent"}},
"layer": [
{"mark": {"type": "rule", "strokeWidth": 3.4},
 "encoding": {
  "x": {"field": "x0", "type": "quantitative", "scale": {"domain": [-0.1444, 0.0544], "nice": false, "zero": false}, "axis": {"values": [-0.1, -0.05, 0, 0.05], "format": ".2f", "title": "Dimension 1"}},
  "y": {"field": "y0", "type": "quantitative", "scale": {"domain": [-0.095, 0.0818], "nice": false, "zero": false}, "axis": {"values": [-0.05, 0, 0.05], "format": ".2f", "title": "Dimension 2"}},
  "x2": {"field": "x1"}, "y2": {"field": "y1"},
  "color": {"field": "t", "type": "nominal", "scale": {"domain": ["Gill", "Gut", "Skin"], "range": ["#E41A1C", "#377EB8", "#4DAF4A"]}}}},
{"transform": [{"calculate": "atan2((datum.x1-datum.x0)*4200,(datum.y1-datum.y0)*3145)*180/PI", "as": "ang"}],
 "mark": {"type": "point", "shape": "M0,0L-0.45,0.87L0.45,0.87Z", "filled": true, "size": 3000, "opacity": 1, "strokeWidth": 0},
 "encoding": {
  "x": {"field": "x1", "type": "quantitative", "scale": {"domain": [-0.1444, 0.0544], "nice": false, "zero": false}, "axis": null},
  "y": {"field": "y1", "type": "quantitative", "scale": {"domain": [-0.095, 0.0818], "nice": false, "zero": false}, "axis": null},
  "angle": {"field": "ang", "type": "quantitative", "scale": null},
  "color": {"field": "t", "type": "nominal"}}},
{"mark": {"type": "circle", "size": 220, "opacity": 1},
 "encoding": {
  "x": {"field": "x0", "type": "quantitative", "scale": {"domain": [-0.1444, 0.0544], "nice": false, "zero": false}, "axis": null},
  "y": {"field": "y0", "type": "quantitative", "scale": {"domain": [-0.095, 0.0818], "nice": false, "zero": false}, "axis": null},
  "color": {"field": "t", "type": "nominal", "legend": {"orient": "none", "legendX": 591, "legendY": -77, "direction": "horizontal", "title": "Tissue", "titleOrient": "left", "titleFontSize": 34, "titleFontWeight": "normal", "titleColor": "black", "titlePadding": 25, "labelFontSize": 28, "labelColor": "black", "labelOffset": 45, "columnPadding": 26, "symbolType": "M-1,-0.12L1.4,-0.12L1.4,0.12L-1,0.12Z M1.52,0L1.437,0.31L1.21,0.537L0.9,0.62L0.59,0.537L0.363,0.31L0.28,0L0.363,-0.31L0.59,-0.537L0.9,-0.62L1.21,-0.537L1.437,-0.31Z M1.3,-0.8L3,0L1.3,0.8Z", "symbolSize": 576, "symbolStrokeWidth": 0, "symbolOpacity": 1, "padding": 0, "encoding": {"symbols": {"update": {"fill": {"scale": "color", "field": "value"}, "stroke": {"value": "transparent"}, "strokeWidth": {"value": 0}, "opacity": {"value": 1}}}}}}}},
{"data": {"values": [{}]},
 "mark": {"type": "text", "text": "A", "fontSize": 40, "fontWeight": "bold", "align": "left", "baseline": "alphabetic", "dx": -126, "dy": 30, "color": "black"},
 "encoding": {
  "x": {"datum": -0.1444, "type": "quantitative", "scale": {"domain": [-0.1444, 0.0544], "nice": false, "zero": false}, "axis": null},
  "y": {"datum": 0.0818, "type": "quantitative", "scale": {"domain": [-0.095, 0.0818], "nice": false, "zero": false}, "axis": null}}},
{"data": {"name": "vA"},
 "mark": {"type": "area", "orient": "horizontal", "stroke": "#333333", "strokeWidth": 2.7, "strokeJoin": "round", "opacity": 1},
 "encoding": {
  "y": {"field": "r", "type": "quantitative", "scale": {"domain": [0.0231, 0.127], "range": [505.6, 385], "nice": false, "zero": false}, "axis": {"orient": "left", "offset": -483.4, "values": [0.025, 0.05, 0.075, 0.1, 0.125], "format": ".3f", "title": "Residuals", "titlePadding": 8}},
  "x": {"field": "lo", "type": "quantitative", "scale": {"domain": [0.4, 3.6], "range": [483.4, 742.75], "nice": false, "zero": false}, "axis": {"orient": "bottom", "offset": -50.4, "values": [1, 2, 3], "labelExpr": "datum.value == 1 ? 'Gill' : datum.value == 2 ? 'Gut' : 'Skin'", "title": null}},
  "x2": {"field": "hi"},
  "color": {"field": "t", "type": "nominal"}}}
]
},
{
"width": 836, "height": 556,
"data": {"name": "B"},
"resolve": {"scale": {"x": "independent", "y": "independent"}, "axis": {"x": "independent", "y": "independent"}},
"layer": [
{"mark": {"type": "rule", "strokeWidth": 3.4},
 "encoding": {
  "x": {"field": "x0", "type": "quantitative", "scale": {"domain": [-0.0931, 0.0645], "nice": false, "zero": false}, "axis": {"values": [-0.05, 0, 0.05], "format": ".2f", "title": "Dimension 1"}},
  "y": {"field": "y0", "type": "quantitative", "scale": {"domain": [-0.0564, 0.06], "nice": false, "zero": false}, "axis": {"values": [-0.03, 0, 0.03, 0.06], "format": ".2f", "title": "Dimension 2"}},
  "x2": {"field": "x1"}, "y2": {"field": "y1"},
  "color": {"field": "t", "type": "nominal"}}},
{"transform": [{"calculate": "atan2((datum.x1-datum.x0)*5305,(datum.y1-datum.y0)*4777)*180/PI", "as": "ang"}],
 "mark": {"type": "point", "shape": "M0,0L-0.45,0.87L0.45,0.87Z", "filled": true, "size": 3000, "opacity": 1, "strokeWidth": 0},
 "encoding": {
  "x": {"field": "x1", "type": "quantitative", "scale": {"domain": [-0.0931, 0.0645], "nice": false, "zero": false}, "axis": null},
  "y": {"field": "y1", "type": "quantitative", "scale": {"domain": [-0.0564, 0.06], "nice": false, "zero": false}, "axis": null},
  "angle": {"field": "ang", "type": "quantitative", "scale": null},
  "color": {"field": "t", "type": "nominal"}}},
{"mark": {"type": "circle", "size": 220, "opacity": 1},
 "encoding": {
  "x": {"field": "x0", "type": "quantitative", "scale": {"domain": [-0.0931, 0.0645], "nice": false, "zero": false}, "axis": null},
  "y": {"field": "y0", "type": "quantitative", "scale": {"domain": [-0.0564, 0.06], "nice": false, "zero": false}, "axis": null},
  "color": {"field": "t", "type": "nominal"}}},
{"data": {"values": [{}]},
 "mark": {"type": "text", "text": "B", "fontSize": 40, "fontWeight": "bold", "align": "left", "baseline": "alphabetic", "dx": -125, "dy": 30, "color": "black"},
 "encoding": {
  "x": {"datum": -0.0931, "type": "quantitative", "scale": {"domain": [-0.0931, 0.0645], "nice": false, "zero": false}, "axis": null},
  "y": {"datum": 0.06, "type": "quantitative", "scale": {"domain": [-0.0564, 0.06], "nice": false, "zero": false}, "axis": null}}},
{"data": {"name": "vB"},
 "mark": {"type": "area", "orient": "horizontal", "stroke": "#333333", "strokeWidth": 2.7, "strokeJoin": "round", "opacity": 1},
 "encoding": {
  "y": {"field": "r", "type": "quantitative", "scale": {"domain": [0.0299, 0.084], "range": [511.4, 377.5], "nice": false, "zero": false}, "axis": {"orient": "left", "offset": -387.25, "values": [0.04, 0.05, 0.06, 0.07, 0.08], "format": ".2f", "title": "Residuals", "titlePadding": 8}},
  "x": {"field": "lo", "type": "quantitative", "scale": {"domain": [0.4, 3.6], "range": [387.25, 609.3], "nice": false, "zero": false}, "axis": {"orient": "bottom", "offset": -44.6, "values": [1, 2, 3], "labelExpr": "datum.value == 1 ? 'Gill' : datum.value == 2 ? 'Gut' : 'Skin'", "title": null}},
  "x2": {"field": "hi"},
  "color": {"field": "t", "type": "nominal"}}}
]
},
{
"width": 835, "height": 555,
"data": {"name": "C"},
"resolve": {"scale": {"x": "independent", "y": "independent"}, "axis": {"x": "independent", "y": "independent"}},
"layer": [
{"mark": {"type": "rule", "strokeWidth": 3.4},
 "encoding": {
  "x": {"field": "x0", "type": "quantitative", "scale": {"domain": [-0.1444, 0.0544], "nice": false, "zero": false}, "axis": {"values": [-0.1, -0.05, 0, 0.05], "format": ".2f", "title": "Dimension 1"}},
  "y": {"field": "y0", "type": "quantitative", "scale": {"domain": [-0.095, 0.0819], "nice": false, "zero": false}, "axis": {"values": [-0.05, 0, 0.05], "format": ".2f", "title": "Dimension 2"}},
  "x2": {"field": "x1"}, "y2": {"field": "y1"},
  "color": {"field": "t", "type": "nominal"}}},
{"transform": [{"calculate": "atan2((datum.x1-datum.x0)*4200,(datum.y1-datum.y0)*3137)*180/PI", "as": "ang"}],
 "mark": {"type": "point", "shape": "M0,0L-0.45,0.87L0.45,0.87Z", "filled": true, "size": 3000, "opacity": 1, "strokeWidth": 0},
 "encoding": {
  "x": {"field": "x1", "type": "quantitative", "scale": {"domain": [-0.1444, 0.0544], "nice": false, "zero": false}, "axis": null},
  "y": {"field": "y1", "type": "quantitative", "scale": {"domain": [-0.095, 0.0819], "nice": false, "zero": false}, "axis": null},
  "angle": {"field": "ang", "type": "quantitative", "scale": null},
  "color": {"field": "t", "type": "nominal"}}},
{"mark": {"type": "circle", "size": 220, "opacity": 1},
 "encoding": {
  "x": {"field": "x0", "type": "quantitative", "scale": {"domain": [-0.1444, 0.0544], "nice": false, "zero": false}, "axis": null},
  "y": {"field": "y0", "type": "quantitative", "scale": {"domain": [-0.095, 0.0819], "nice": false, "zero": false}, "axis": null},
  "color": {"field": "t", "type": "nominal"}}},
{"data": {"values": [{}]},
 "mark": {"type": "text", "text": "C", "fontSize": 40, "fontWeight": "bold", "align": "left", "baseline": "alphabetic", "dx": -126, "dy": 29, "color": "black"},
 "encoding": {
  "x": {"datum": -0.1444, "type": "quantitative", "scale": {"domain": [-0.1444, 0.0544], "nice": false, "zero": false}, "axis": null},
  "y": {"datum": 0.0819, "type": "quantitative", "scale": {"domain": [-0.095, 0.0819], "nice": false, "zero": false}, "axis": null}}},
{"data": {"name": "vC"},
 "mark": {"type": "area", "orient": "horizontal", "stroke": "#333333", "strokeWidth": 2.7, "strokeJoin": "round", "opacity": 1},
 "encoding": {
  "y": {"field": "r", "type": "quantitative", "scale": {"domain": [0.0224, 0.1307], "range": [507.8, 398.2], "nice": false, "zero": false}, "axis": {"orient": "left", "offset": -514.6, "values": [0.025, 0.05, 0.075, 0.1, 0.125], "format": ".3f", "title": "Residuals", "titlePadding": 8}},
  "x": {"field": "lo", "type": "quantitative", "scale": {"domain": [0.4, 3.6], "range": [514.6, 732.5], "nice": false, "zero": false}, "axis": {"orient": "bottom", "offset": -47.2, "values": [1, 2, 3], "labelExpr": "datum.value == 1 ? 'Gill' : datum.value == 2 ? 'Gut' : 'Skin'", "title": null}},
  "x2": {"field": "hi"},
  "color": {"field": "t", "type": "nominal"}}}
]
},
{
"width": 836, "height": 555,
"data": {"name": "D"},
"resolve": {"scale": {"x": "independent", "y": "independent"}, "axis": {"x": "independent", "y": "independent"}},
"layer": [
{"mark": {"type": "rule", "strokeWidth": 3.4},
 "encoding": {
  "x": {"field": "x0", "type": "quantitative", "scale": {"domain": [-0.0886, 0.0643], "nice": false, "zero": false}, "axis": {"values": [-0.05, 0, 0.05], "format": ".2f", "title": "Dimension 1"}},
  "y": {"field": "y0", "type": "quantitative", "scale": {"domain": [-0.0564, 0.06], "nice": false, "zero": false}, "axis": {"values": [-0.03, 0, 0.03, 0.06], "format": ".2f", "title": "Dimension 2"}},
  "x2": {"field": "x1"}, "y2": {"field": "y1"},
  "color": {"field": "t", "type": "nominal"}}},
{"transform": [{"calculate": "atan2((datum.x1-datum.x0)*5468,(datum.y1-datum.y0)*4768)*180/PI", "as": "ang"}],
 "mark": {"type": "point", "shape": "M0,0L-0.45,0.87L0.45,0.87Z", "filled": true, "size": 3000, "opacity": 1, "strokeWidth": 0},
 "encoding": {
  "x": {"field": "x1", "type": "quantitative", "scale": {"domain": [-0.0886, 0.0643], "nice": false, "zero": false}, "axis": null},
  "y": {"field": "y1", "type": "quantitative", "scale": {"domain": [-0.0564, 0.06], "nice": false, "zero": false}, "axis": null},
  "angle": {"field": "ang", "type": "quantitative", "scale": null},
  "color": {"field": "t", "type": "nominal"}}},
{"mark": {"type": "circle", "size": 220, "opacity": 1},
 "encoding": {
  "x": {"field": "x0", "type": "quantitative", "scale": {"domain": [-0.0886, 0.0643], "nice": false, "zero": false}, "axis": null},
  "y": {"field": "y0", "type": "quantitative", "scale": {"domain": [-0.0564, 0.06], "nice": false, "zero": false}, "axis": null},
  "color": {"field": "t", "type": "nominal"}}},
{"data": {"values": [{}]},
 "mark": {"type": "text", "text": "D", "fontSize": 40, "fontWeight": "bold", "align": "left", "baseline": "alphabetic", "dx": -125, "dy": 31, "color": "black"},
 "encoding": {
  "x": {"datum": -0.0886, "type": "quantitative", "scale": {"domain": [-0.0886, 0.0643], "nice": false, "zero": false}, "axis": null},
  "y": {"datum": 0.06, "type": "quantitative", "scale": {"domain": [-0.0564, 0.06], "nice": false, "zero": false}, "axis": null}}},
{"data": {"name": "vD"},
 "mark": {"type": "area", "orient": "horizontal", "stroke": "#333333", "strokeWidth": 2.7, "strokeJoin": "round", "opacity": 1},
 "encoding": {
  "y": {"field": "r", "type": "quantitative", "scale": {"domain": [0.02916, 0.09016], "range": [119.8, -39.3], "nice": false, "zero": false}, "axis": {"orient": "left", "offset": -118.2, "values": [0.03, 0.04, 0.05, 0.06, 0.07, 0.08], "format": ".2f", "title": "Residuals", "titlePadding": 8}},
  "x": {"field": "lo", "type": "quantitative", "scale": {"domain": [0.4, 3.6], "range": [118.2, 303.2], "nice": false, "zero": false}, "axis": {"orient": "bottom", "offset": -435.2, "values": [1, 2, 3], "labelExpr": "datum.value == 1 ? 'Gill' : datum.value == 2 ? 'Gut' : 'Skin'", "title": null}},
  "x2": {"field": "hi"},
  "color": {"field": "t", "type": "nominal"}}}
]
}
],
"config": {
 "font": "Liberation Sans",
 "view": {"stroke": null},
 "locale": {"number": {"decimal": ".", "thousands": ",", "grouping": [3], "currency": ["$", ""], "minus": "-"}},
 "axis": {"grid": false, "domainColor": "black", "domainWidth": 2.7, "tickColor": "black", "tickWidth": 2.7, "tickSize": 7.5, "labelColor": "#4D4D4D", "labelFontSize": 28, "labelFont": "Liberation Sans", "titleFont": "Liberation Sans", "titleFontSize": 35, "titleFontWeight": "normal", "titleColor": "black", "labelFlush": false, "labelOverlap": false, "labelBound": false},
 "axisX": {"labelPadding": 7.5, "titlePadding": 9},
 "axisY": {"labelPadding": 11, "titlePadding": 7},
 "legend": {"labelFont": "Liberation Sans", "titleFont": "Liberation Sans"}
}
}
